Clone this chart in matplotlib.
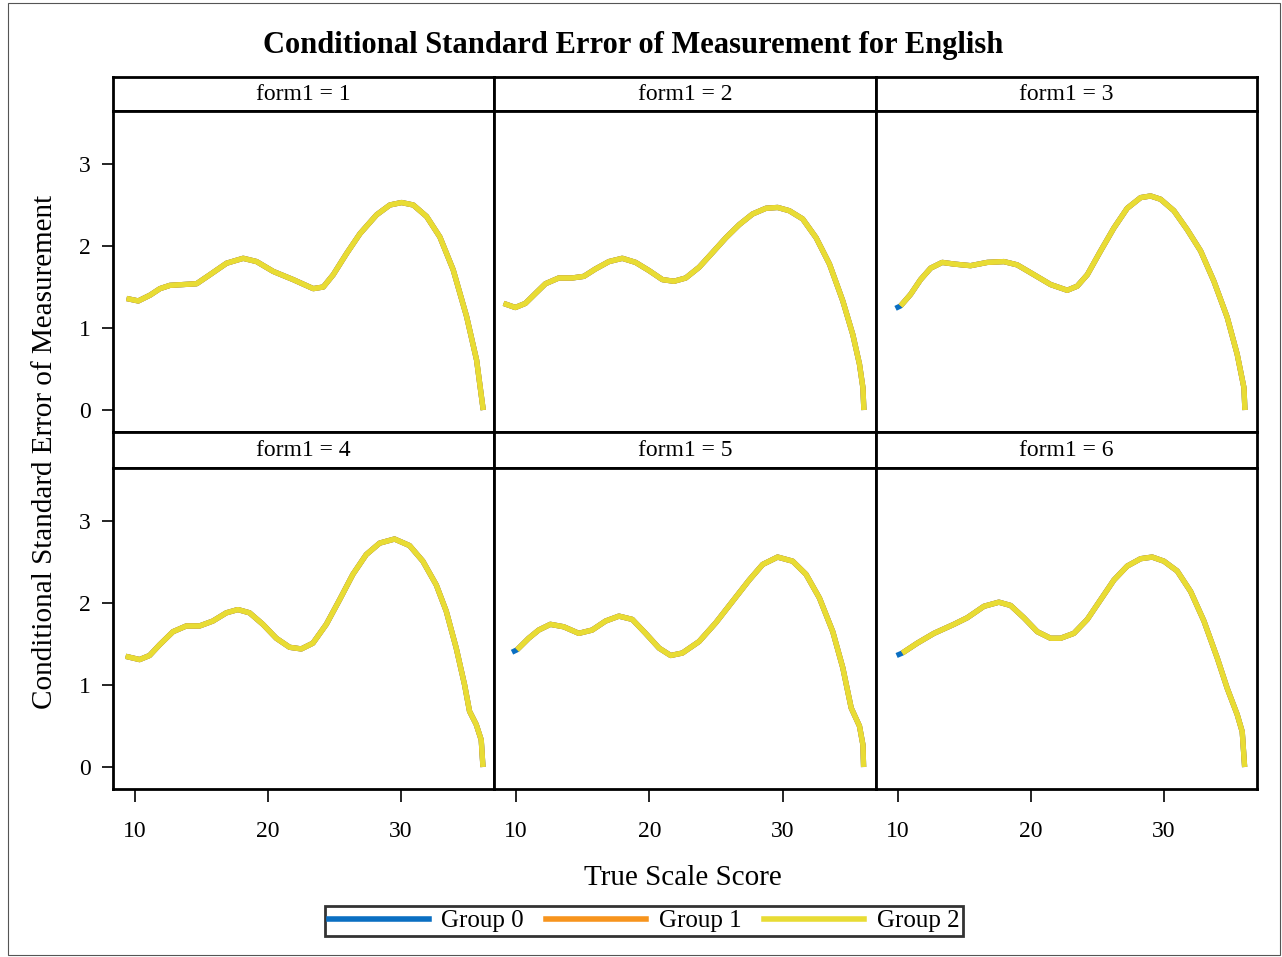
import numpy as np
import matplotlib
matplotlib.use('Agg')
import matplotlib.pyplot as plt
from matplotlib.patches import Rectangle
from matplotlib.lines import Line2D

plt.rcParams['font.family'] = ['Liberation Serif', 'DejaVu Serif']

# data (true scale score, CSEM), one curve per form
x1 = [9.37, 10.25, 11.13, 11.88, 12.63, 13.63, 14.64, 15.64, 16.89, 18.14, 19.15, 20.40, 21.90,
      23.41, 24.16, 24.91, 25.92, 26.92, 28.17, 29.17, 30.05, 30.93, 31.93, 32.93, 33.93, 34.94,
      35.69, 36.19]
y1 = [1.36, 1.33, 1.40, 1.48, 1.52, 1.53, 1.54, 1.65, 1.79, 1.85, 1.81, 1.69, 1.59,
      1.48, 1.50, 1.65, 1.91, 2.15, 2.38, 2.50, 2.53, 2.50, 2.36, 2.11, 1.71, 1.14,
      0.61, 0.0]

x2 = [9.07, 9.95, 10.70, 11.45, 12.21, 13.21, 14.21, 15.09, 15.96, 16.97, 17.97, 18.97, 19.98,
      20.98, 21.85, 22.73, 23.73, 24.74, 25.74, 26.74, 27.74, 28.75, 29.62, 30.50, 31.50, 32.51,
      33.51, 34.51, 35.26, 35.76, 36.02, 36.09]
y2 = [1.30, 1.25, 1.30, 1.42, 1.54, 1.61, 1.61, 1.63, 1.72, 1.81, 1.85, 1.80, 1.70,
      1.59, 1.57, 1.61, 1.74, 1.92, 2.10, 2.26, 2.39, 2.46, 2.47, 2.43, 2.33, 2.10,
      1.78, 1.33, 0.92, 0.56, 0.27, 0.0]

x3 = [9.82, 10.20, 10.95, 11.70, 12.46, 13.33, 14.21, 15.46, 16.72, 17.97, 18.97, 20.23, 21.48,
      22.73, 23.48, 24.24, 25.24, 26.24, 27.24, 28.25, 29.00, 29.75, 30.75, 31.75, 32.76, 33.76,
      34.76, 35.51, 36.02, 36.09]
y3 = [1.24, 1.27, 1.41, 1.59, 1.73, 1.80, 1.78, 1.76, 1.80, 1.81, 1.77, 1.65, 1.53,
      1.46, 1.51, 1.65, 1.94, 2.22, 2.46, 2.59, 2.61, 2.57, 2.43, 2.20, 1.94, 1.57,
      1.13, 0.68, 0.27, 0.0]

x4 = [9.30, 10.35, 11.10, 11.85, 12.86, 13.86, 14.86, 15.86, 16.87, 17.74, 18.62, 19.62, 20.63,
      21.63, 22.51, 23.38, 24.39, 25.39, 26.39, 27.39, 28.40, 29.52, 30.65, 31.65, 32.66, 33.41,
      34.16, 34.79, 35.16, 35.66, 36.04, 36.17]
y4 = [1.35, 1.31, 1.36, 1.49, 1.65, 1.72, 1.72, 1.78, 1.88, 1.92, 1.88, 1.74, 1.57,
      1.46, 1.44, 1.51, 1.74, 2.04, 2.35, 2.59, 2.73, 2.78, 2.70, 2.51, 2.22, 1.90,
      1.45, 1.00, 0.68, 0.52, 0.33, 0.0]

x5 = [9.70, 10.08, 10.95, 11.70, 12.58, 13.58, 14.71, 15.71, 16.72, 17.72, 18.72, 19.72, 20.73,
      21.60, 22.48, 23.73, 24.99, 26.24, 27.49, 28.50, 29.62, 30.75, 31.75, 32.76, 33.76, 34.51,
      35.14, 35.76, 36.02, 36.07]
y5 = [1.40, 1.43, 1.57, 1.67, 1.74, 1.71, 1.63, 1.67, 1.78, 1.84, 1.80, 1.63, 1.45,
      1.36, 1.39, 1.53, 1.76, 2.02, 2.28, 2.47, 2.56, 2.51, 2.35, 2.06, 1.65, 1.21,
      0.72, 0.50, 0.27, 0.0]

x6 = [9.90, 10.33, 11.45, 12.71, 14.21, 15.21, 16.47, 17.59, 18.47, 19.47, 20.48, 21.48, 22.23,
      23.23, 24.24, 25.24, 26.24, 27.24, 28.25, 29.12, 30.00, 31.00, 32.01, 33.01, 34.01, 34.76,
      35.51, 35.89, 36.07]
y6 = [1.36, 1.39, 1.51, 1.63, 1.74, 1.82, 1.96, 2.01, 1.97, 1.82, 1.65, 1.57, 1.57,
      1.63, 1.80, 2.04, 2.28, 2.45, 2.54, 2.56, 2.51, 2.39, 2.14, 1.78, 1.33, 0.96,
      0.64, 0.43, 0.0]

panel_x = [x1, x2, x3, x4, x5, x6]
panel_y = [y1, y2, y3, y4, y5, y6]
# index where groups 1 and 2 begin (group 0 starts a hair earlier on some forms)
g12_start = [0, 0, 1, 0, 1, 1]

forms = ['1', '2', '3', '4', '5', '6']
groups = ['Group 0', 'Group 1', 'Group 2']
colors = ['#0a6fc2', '#f7941d', '#e8dc34']
xticks = [10, 20, 30]
yticks = [0, 1, 2, 3]

W, H = 1282, 957
fig = plt.figure(figsize=(W / 100, H / 100), dpi=100)

def fx(px):
    return px / W

def fy(py):
    return 1 - py / H

col_edges = [113, 494, 876, 1257]
rows = [(77, 111, 432), (432, 468, 789)]

for i in range(6):
    r, c = divmod(i, 3)
    s_top, a_top, a_bot = rows[r]
    left, right = col_edges[c], col_edges[c + 1]

    # strip with the form label
    sax = fig.add_axes([fx(left), fy(a_top), fx(right - left), (a_top - s_top) / H])
    sax.set_xticks([])
    sax.set_yticks([])
    for sp in sax.spines.values():
        sp.set_linewidth(2)
    sax.text(0.5, 0.5, 'form1 = ' + forms[i], ha='center', va='center',
             fontsize=17, transform=sax.transAxes)

    ax = fig.add_axes([fx(left), fy(a_bot), fx(right - left), (a_bot - a_top) / H])
    xs = panel_x[i]
    ys = panel_y[i]
    k = g12_start[i]
    ax.plot(xs, ys, color=colors[0], lw=3.8, solid_capstyle='butt', solid_joinstyle='round')
    ax.plot(xs[k:], ys[k:], color=colors[1], lw=3.8, solid_capstyle='butt', solid_joinstyle='round')
    ax.plot(xs[k:], ys[k:], color=colors[2], lw=3.8, solid_capstyle='butt', solid_joinstyle='round')
    ax.set_xlim(8.35, 37.0)
    ax.set_ylim(-0.268, 3.646)
    for sp in ax.spines.values():
        sp.set_linewidth(2)
    ax.set_xticks(xticks)
    ax.set_yticks(yticks)
    ax.tick_params(axis='both', length=8, width=1.2, labelsize=17, direction='out')
    ax.tick_params(axis='x', length=9, pad=14)
    ax.tick_params(axis='y', pad=8)
    if c != 0:
        ax.tick_params(axis='y', left=False, labelleft=False)
    if r != 1:
        ax.tick_params(axis='x', bottom=False, labelbottom=False)

fig.text(fx(633), fy(45), 'Conditional Standard Error of Measurement for English',
         ha='center', va='center', fontsize=22, fontweight='bold')
fig.text(fx(683), fy(878), 'True Scale Score', ha='center', va='center', fontsize=21)
fig.text(fx(45), fy(452), 'Conditional Standard Error of Measurement', ha='center',
         va='center', rotation=90, fontsize=21)

handles = [Line2D([], [], color=col, lw=4) for col in colors]
leg = fig.legend(handles, groups, loc='center', bbox_to_anchor=(fx(644), fy(921)),
                 ncol=3, fontsize=18, frameon=True, fancybox=False, handlelength=4.0,
                 columnspacing=0.9, handletextpad=0.5, borderpad=0.15)
leg.get_frame().set_edgecolor('black')
leg.get_frame().set_linewidth(2)

fig.patches.append(Rectangle((fx(8), fy(955)), fx(1272), (952) / H, transform=fig.transFigure,
                             fill=False, edgecolor='#555555', lw=0.8))

fig.savefig('out.png', dpi=100)
